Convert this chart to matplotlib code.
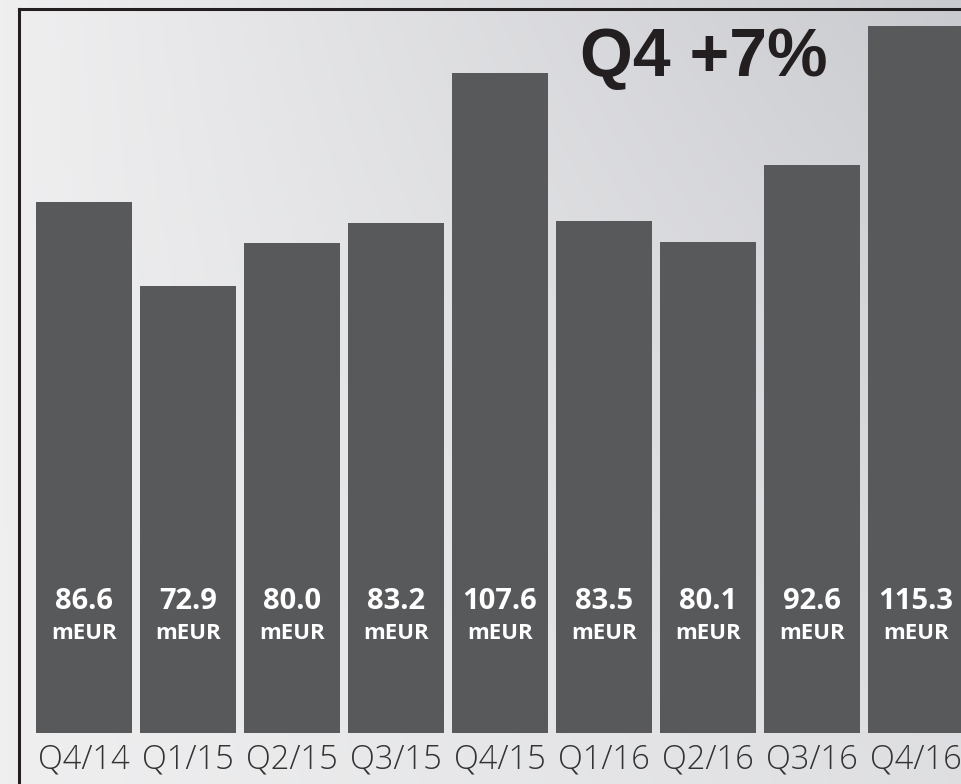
import matplotlib
matplotlib.use("Agg")
import matplotlib.pyplot as plt
import numpy as np
from matplotlib.colors import LinearSegmentedColormap
from matplotlib.lines import Line2D

categories = ["Q4/14", "Q1/15", "Q2/15", "Q3/15", "Q4/15", "Q1/16", "Q2/16", "Q3/16", "Q4/16"]
values = [86.6, 72.9, 80.0, 83.2, 107.6, 83.5, 80.1, 92.6, 115.3]
value_labels = ["86.6", "72.9", "80.0", "83.2", "107.6", "83.5", "80.1", "92.6", "115.3"]
unit = "mEUR"
title = "Q4 +7%"

W, H = 962, 784
fig = plt.figure(figsize=(W / 100, H / 100), dpi=100)

# background gradient
bg = fig.add_axes([0, 0, 1, 1], zorder=-10)
xx, yy = np.meshgrid(np.linspace(0, 1, 300), np.linspace(0, 1, 300))
val = 0.35 * xx + 0.45 * xx * (1 - yy) ** 1.2
cmap = LinearSegmentedColormap.from_list("bg", ["#efeff0", "#c9cacf"])
bg.imshow(val, cmap=cmap, vmin=0, vmax=0.8, aspect="auto", origin="upper",
          extent=[0, 1, 0, 1])
bg.set_axis_off()

left_px, right_px, top_px, bottom_px = 19, 962, 9, 733
ax = fig.add_axes([left_px / W, 1 - bottom_px / H, (right_px - left_px) / W,
                   (bottom_px - top_px) / H])
ax.patch.set_alpha(0)

x = np.arange(len(categories))
ax.bar(x, values, width=0.923, color="#58595b", zorder=2)
ax.set_xlim(-0.625, 8.442)
ax.set_ylim(0, 118.1)

for sp in ["right", "bottom", "left"]:
    ax.spines[sp].set_visible(False)
ax.spines["top"].set_color("#231f20")
ax.spines["top"].set_linewidth(2.2)
# left frame line runs to the bottom edge
fig.add_artist(Line2D([left_px / W, left_px / W], [0, 1 - top_px / H],
                      transform=fig.transFigure, color="#231f20", lw=2.2))

ax.set_yticks([])
ax.set_xticks(x)
ax.set_xticklabels(categories, fontsize=23.5, family="Open Sans", fontweight="light",
                   color="#333333")
ax.tick_params(axis="x", length=0, pad=7)

for i, lab in enumerate(value_labels):
    ax.text(i, 21.4, lab, ha="center", va="center", color="white",
            fontsize=21, fontweight="bold", family="Open Sans", zorder=3)
    ax.text(i, 16.2, unit, ha="center", va="center", color="white",
            fontsize=16, fontweight="bold", family="Open Sans", zorder=3)

fig.text(704 / W, 1 - 58 / H, title, ha="center", va="center", fontsize=49,
         fontweight="bold", family="Liberation Sans", color="#231f20")

fig.savefig("out.png", dpi=100)
